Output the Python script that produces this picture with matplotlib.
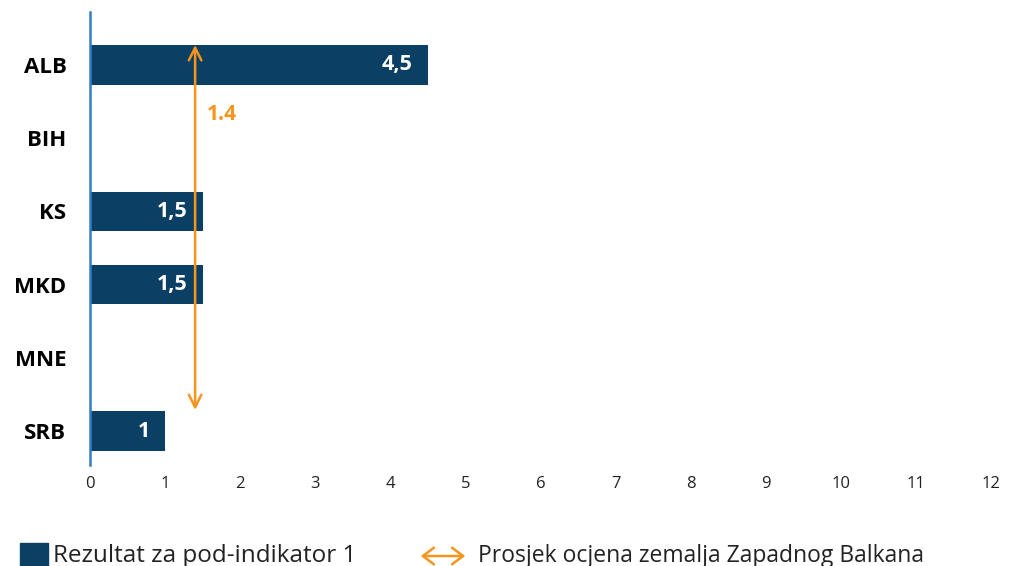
import matplotlib.pyplot as plt
from matplotlib.patches import Rectangle, FancyArrowPatch

countries = ['ALB', 'BIH', 'KS', 'MKD', 'MNE', 'SRB']
scores = [4.5, None, 1.5, 1.5, None, 1]
labels = ['4,5', '', '1,5', '1,5', '', '1']
average = 1.4
xticks = list(range(0, 13))

bar_color = '#0b3f63'
orange = '#f7941d'
axis_blue = '#2f7fc1'

plt.rcParams['font.family'] = ['Open Sans', 'DejaVu Sans']

fig = plt.figure(figsize=(10.09, 5.66), dpi=100)
ax = fig.add_axes([90 / 1009, 1 - 465 / 566, 901 / 1009, 453 / 566])

ypos = list(range(len(countries)))
vals = [v if v is not None else 0 for v in scores]
ax.barh(ypos, vals, height=0.54, color=bar_color)
for y, v, lab in zip(ypos, vals, labels):
    if lab:
        ax.text(v - 0.2, y, lab, ha='right', va='center', color='white',
                fontsize=15.5, fontweight='bold')

ax.set_xlim(0, 12)
ax.set_ylim(5.46, -0.72)
ax.set_xticks(xticks)
ax.set_yticks(ypos)
ax.set_yticklabels(countries, fontsize=16, fontweight='bold')
ax.tick_params(axis='x', length=0, labelsize=12, pad=8, colors='#222222')
ax.tick_params(axis='y', length=0, pad=17)
for s in ['top', 'right', 'bottom']:
    ax.spines[s].set_visible(False)
ax.spines['left'].set_color(axis_blue)
ax.spines['left'].set_linewidth(1.8)

# average double arrow
ax.annotate('', xy=(average, -0.27), xytext=(average, 4.71),
            arrowprops=dict(arrowstyle='<->,head_length=0.9,head_width=0.45',
                            color=orange, lw=1.8, shrinkA=0, shrinkB=0))
ax.text(average + 0.15, 0.68, '1.4', color=orange, fontsize=15,
        fontweight='bold', ha='left', va='center')

# legend
ly = 1 - 556 / 566
fig.patches.append(Rectangle((20 / 1009, ly - 11 / 566), 28 / 1009, 24 / 566,
                             transform=fig.transFigure, color=bar_color))
fig.text(53 / 1009, ly, 'Rezultat za pod-indikator 1', fontsize=17.5,
         va='center', ha='left', color='#222222')
fig.patches.append(FancyArrowPatch((418 / 1009, ly), (468 / 1009, ly),
                                   transform=fig.transFigure,
                                   arrowstyle='<->,head_length=8,head_width=6',
                                   color=orange, lw=1.8))
fig.text(478 / 1009, ly, 'Prosjek ocjena zemalja Zapadnog Balkana',
         fontsize=16.5, va='center', ha='left', color='#222222')

fig.savefig('out.png', dpi=100)
